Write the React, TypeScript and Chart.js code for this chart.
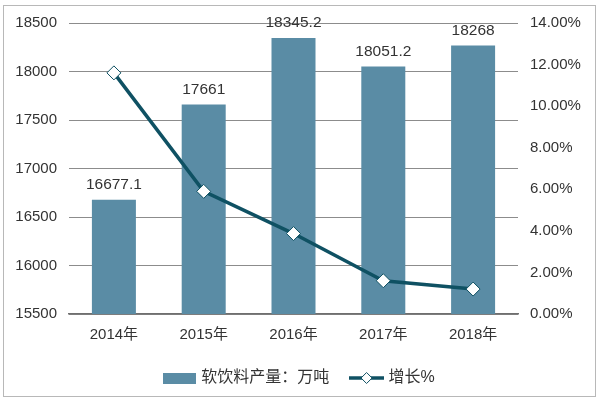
import React, { useEffect, useRef } from "react";
import { Chart, registerables } from "chart.js";

Chart.register(...registerables);

const categories = ["2014年", "2015年", "2016年", "2017年", "2018年"];
const production = [16677.1, 17661, 18345.2, 18051.2, 18268];
const growth = [11.6, 5.9, 3.87, 1.6, 1.2];
const barLabel = "软饮料产量：万吨";
const lineLabel = "增长%";

const BAR_COLOR = "#5a8ca5";
const LINE_COLOR = "#0f5163";
const FONT = "'Liberation Sans', Arial, 'Noto Sans CJK SC', sans-serif";

function makeBarSwatch() {
  const c = document.createElement("canvas");
  c.width = 33;
  c.height = 11;
  const ctx = c.getContext("2d")!;
  ctx.fillStyle = BAR_COLOR;
  ctx.fillRect(0, 0, 33, 11);
  return c;
}

function makeLineSwatch() {
  const c = document.createElement("canvas");
  c.width = 35;
  c.height = 14;
  const ctx = c.getContext("2d")!;
  ctx.strokeStyle = LINE_COLOR;
  ctx.lineWidth = 3.5;
  ctx.beginPath();
  ctx.moveTo(0, 7);
  ctx.lineTo(35, 7);
  ctx.stroke();
  ctx.fillStyle = "#ffffff";
  ctx.lineWidth = 1;
  ctx.beginPath();
  ctx.moveTo(17.5, 1.5);
  ctx.lineTo(23, 7);
  ctx.lineTo(17.5, 12.5);
  ctx.lineTo(12, 7);
  ctx.closePath();
  ctx.fill();
  ctx.stroke();
  return c;
}

const framePlugin = {
  id: "frame",
  beforeDraw(chart: any) {
    const ctx = chart.ctx;
    ctx.save();
    ctx.fillStyle = "#ffffff";
    ctx.fillRect(0, 0, chart.width, chart.height);
    ctx.strokeStyle = "#b8b8b8";
    ctx.lineWidth = 1;
    ctx.strokeRect(3.5, 5.5, 592, 391);
    ctx.restore();
  },
};

const barLabelPlugin = {
  id: "barLabels",
  afterDatasetsDraw(chart: any) {
    const ctx = chart.ctx;
    const meta = chart.getDatasetMeta(0);
    ctx.save();
    ctx.fillStyle = "#333333";
    ctx.font = `15.5px ${FONT}`;
    ctx.textAlign = "center";
    ctx.textBaseline = "middle";
    meta.data.forEach((el: any, i: number) => {
      ctx.fillText(String(production[i]), el.x, el.y - 15);
    });
    ctx.restore();
  },
};

export default function App() {
  const ref = useRef<HTMLCanvasElement>(null);

  useEffect(() => {
    document.body.style.margin = "0";
    const barSwatch = makeBarSwatch();
    const lineSwatch = makeLineSwatch();
    const chart = new Chart(ref.current!, {
      type: "bar",
      data: {
        labels: categories,
        datasets: [
          {
            type: "bar",
            label: barLabel,
            data: production,
            backgroundColor: BAR_COLOR,
            yAxisID: "y",
            categoryPercentage: 1,
            barPercentage: 0.49,
            order: 2,
          } as any,
          {
            type: "line",
            label: lineLabel,
            data: growth,
            borderColor: LINE_COLOR,
            borderWidth: 3.5,
            backgroundColor: "#ffffff",
            pointStyle: "rectRot",
            pointRadius: 7,
            pointBorderWidth: 1,
            pointBorderColor: LINE_COLOR,
            pointBackgroundColor: "#ffffff",
            yAxisID: "y1",
            tension: 0,
            order: 1,
          } as any,
        ],
      },
      options: {
        responsive: false,
        animation: false,
        layout: { padding: { top: 23, bottom: 6, left: 0, right: 0 } },
        plugins: {
          tooltip: { enabled: false },
          legend: {
            position: "bottom",
            labels: {
              usePointStyle: true,
              pointStyleWidth: 28,
              font: { family: FONT, size: 16 },
              color: "#333333",
              padding: 10,
              boxWidth: 28,
              generateLabels: () => [
                {
                  text: barLabel + "   ",
                  pointStyle: barSwatch,
                  fillStyle: BAR_COLOR,
                  strokeStyle: BAR_COLOR,
                  lineWidth: 0,
                  datasetIndex: 0,
                  fontColor: "#333333",
                } as any,
                {
                  text: lineLabel,
                  pointStyle: lineSwatch,
                  fillStyle: "#ffffff",
                  strokeStyle: LINE_COLOR,
                  lineWidth: 0,
                  datasetIndex: 1,
                  fontColor: "#333333",
                } as any,
              ],
            },
          },
        },
        scales: {
          x: {
            grid: { display: false, drawTicks: false },
            border: { display: true, color: "#6f6f6f", width: 1.5 },
            ticks: {
              font: { family: FONT, size: 15 },
              color: "#333333",
              padding: 12,
              maxRotation: 0,
            },
            afterFit: (s: any) => {
              s.height = 46;
            },
          },
          y: {
            position: "left",
            min: 15500,
            max: 18500,
            ticks: {
              stepSize: 500,
              font: { family: FONT, size: 15 },
              color: "#333333",
              padding: 12,
              callback: (v: any) => String(v),
            },
            grid: { color: "#8c8c8c", lineWidth: 1, drawTicks: false },
            border: { display: false },
            afterFit: (s: any) => {
              s.width = 69;
            },
          },
          y1: {
            position: "right",
            min: 0,
            max: 14,
            ticks: {
              stepSize: 2,
              font: { family: FONT, size: 15 },
              color: "#333333",
              padding: 12,
              callback: (v: any) => Number(v).toFixed(2) + "%",
            },
            grid: { display: false, drawTicks: false },
            border: { display: false },
            afterFit: (s: any) => {
              s.width = 82;
            },
          },
        },
      },
      plugins: [framePlugin, barLabelPlugin],
    });
    return () => chart.destroy();
  }, []);

  return <canvas ref={ref} width={600} height={402} style={{ display: "block" }} />;
}
